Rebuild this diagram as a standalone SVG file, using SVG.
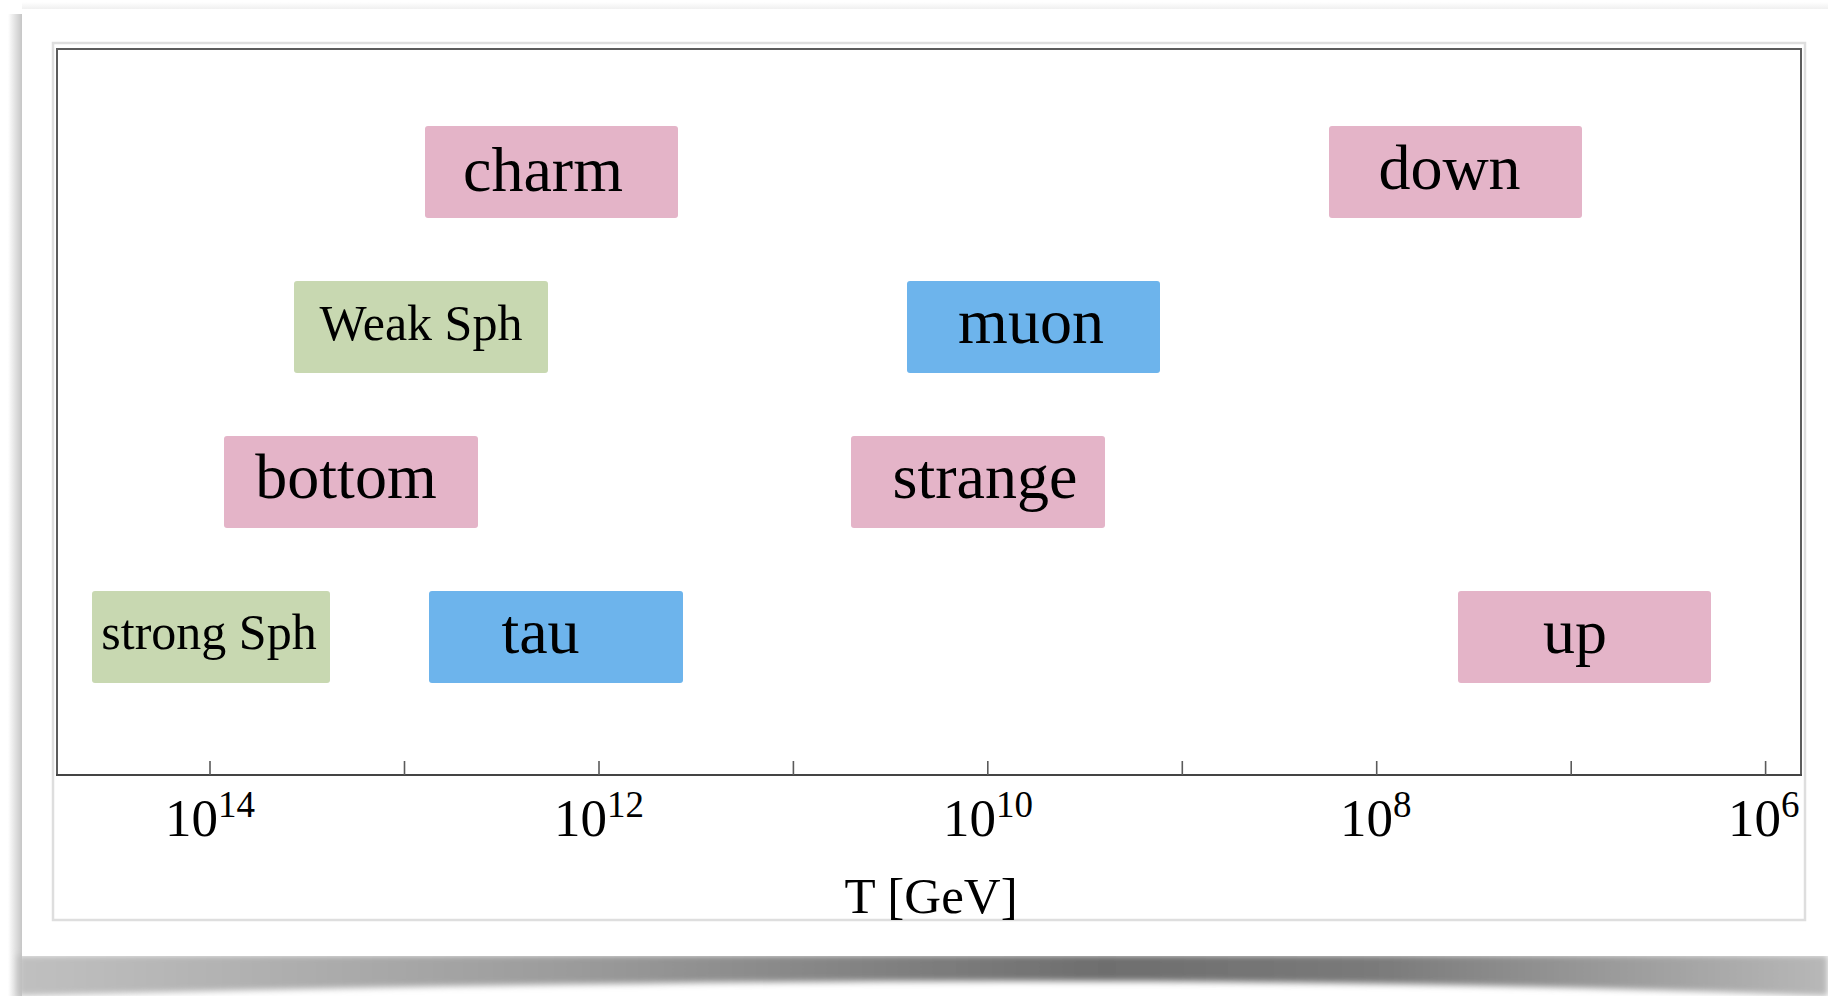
<svg xmlns="http://www.w3.org/2000/svg" width="1828" height="996" viewBox="0 0 1828 996">
  <style>
    text { font-family: "Liberation Serif", "Times New Roman", serif; fill: #000; }
    .lbl { font-size: 64px; text-anchor: middle; }
    .lbs { font-size: 50px; text-anchor: middle; }
    .tl { font-size: 53px; }
    .sup { font-size: 37px; }
    .pink { fill: #e4b4c8; }
    .green { fill: #c8d8b1; }
    .blue { fill: #6db4ec; }
    .tick { stroke: #5a5a5a; stroke-width: 1.6; }
  </style>
  <defs>
    <linearGradient id="lsh" x1="0" y1="0" x2="1" y2="0">
      <stop offset="0" stop-color="#ffffff"/>
      <stop offset="0.5" stop-color="#e2e2e2"/>
      <stop offset="1" stop-color="#c6c6c6"/>
    </linearGradient>
    <linearGradient id="bsh" x1="0" y1="0" x2="1" y2="0">
      <stop offset="0" stop-color="#c0c0c0"/>
      <stop offset="0.3" stop-color="#9c9c9c"/>
      <stop offset="0.6" stop-color="#6e6e6e"/>
      <stop offset="0.75" stop-color="#7a7a7a"/>
      <stop offset="1" stop-color="#b8b8b8"/>
    </linearGradient>
    <linearGradient id="tsh" x1="0" y1="0" x2="0" y2="1">
      <stop offset="0" stop-color="#ffffff"/>
      <stop offset="1" stop-color="#f0f0f0"/>
    </linearGradient>
    <filter id="blur" x="-0.05" y="-1" width="1.1" height="3">
      <feGaussianBlur stdDeviation="3"/>
    </filter>
  </defs>

  <!-- page and card -->
  <rect x="0" y="0" width="1828" height="996" fill="#ffffff"/>
  <g id="card-shadow">
    <rect x="8" y="14" width="14" height="982" fill="url(#lsh)"/>
    <rect x="22" y="2" width="1806" height="7" fill="url(#tsh)"/>
    <path d="M18,955 L1828,955 L1828,996 Q1100,966 18,996 Z" fill="url(#bsh)" filter="url(#blur)"/>
  </g>
  <rect id="card" x="22" y="9" width="1806" height="947" fill="#ffffff"/>
  <rect id="outer-frame" x="53" y="43" width="1752" height="877" fill="none" stroke="#dedede" stroke-width="2.5"/>

  <!-- plot frame and axis -->
  <g id="axis">
    <path d="M57,775 L57,49 L1801,49 L1801,775" fill="none" stroke="#5c5c5c" stroke-width="2"/>
    <line x1="56" y1="775" x2="1802" y2="775" stroke="#444" stroke-width="2.2"/>
    <line class="tick" x1="210" y1="761" x2="210" y2="775"/>
    <line class="tick" x1="404.5" y1="761" x2="404.5" y2="775"/>
    <line class="tick" x1="599" y1="761" x2="599" y2="775"/>
    <line class="tick" x1="793.4" y1="761" x2="793.4" y2="775"/>
    <line class="tick" x1="987.8" y1="761" x2="987.8" y2="775"/>
    <line class="tick" x1="1182.3" y1="761" x2="1182.3" y2="775"/>
    <line class="tick" x1="1376.7" y1="761" x2="1376.7" y2="775"/>
    <line class="tick" x1="1571.2" y1="761" x2="1571.2" y2="775"/>
    <line class="tick" x1="1765.6" y1="761" x2="1765.6" y2="775"/>
    <text class="tl" x="165" y="836">10<tspan class="sup" dy="-19">14</tspan></text>
    <text class="tl" x="554" y="836">10<tspan class="sup" dy="-19">12</tspan></text>
    <text class="tl" x="943" y="836">10<tspan class="sup" dy="-19">10</tspan></text>
    <text class="tl" x="1340" y="836">10<tspan class="sup" dy="-19">8</tspan></text>
    <text class="tl" x="1728" y="836">10<tspan class="sup" dy="-19">6</tspan></text>
    <text x="931" y="913" style="font-size:51px;text-anchor:middle">T [GeV]</text>
  </g>

  <g id="connectors"></g>

  <g id="charm">
    <rect class="pink" x="425" y="126" width="253" height="92" rx="3"/>
    <text class="lbl" x="543" y="191">charm</text>
  </g>
  <g id="down">
    <rect class="pink" x="1329" y="126" width="253" height="92" rx="3"/>
    <text class="lbl" x="1449.5" y="189">down</text>
  </g>
  <g id="weak-sph">
    <rect class="green" x="294" y="281" width="254" height="92" rx="3"/>
    <text class="lbs" x="421" y="340">Weak Sph</text>
  </g>
  <g id="muon">
    <rect class="blue" x="907" y="281" width="253" height="92" rx="3"/>
    <text class="lbl" x="1031" y="343">muon</text>
  </g>
  <g id="bottom">
    <rect class="pink" x="224" y="436" width="254" height="92" rx="3"/>
    <text class="lbl" x="346" y="498">bottom</text>
  </g>
  <g id="strange">
    <rect class="pink" x="851" y="436" width="254" height="92" rx="3"/>
    <text class="lbl" x="985" y="498">strange</text>
  </g>
  <g id="strong-sph">
    <rect class="green" x="92" y="591" width="238" height="92" rx="3"/>
    <text class="lbs" x="209" y="649">strong Sph</text>
  </g>
  <g id="tau">
    <rect class="blue" x="429" y="591" width="254" height="92" rx="3"/>
    <text class="lbl" x="540.5" y="653">tau</text>
  </g>
  <g id="up">
    <rect class="pink" x="1458" y="591" width="253" height="92" rx="3"/>
    <text class="lbl" x="1575" y="653">up</text>
  </g>
</svg>
